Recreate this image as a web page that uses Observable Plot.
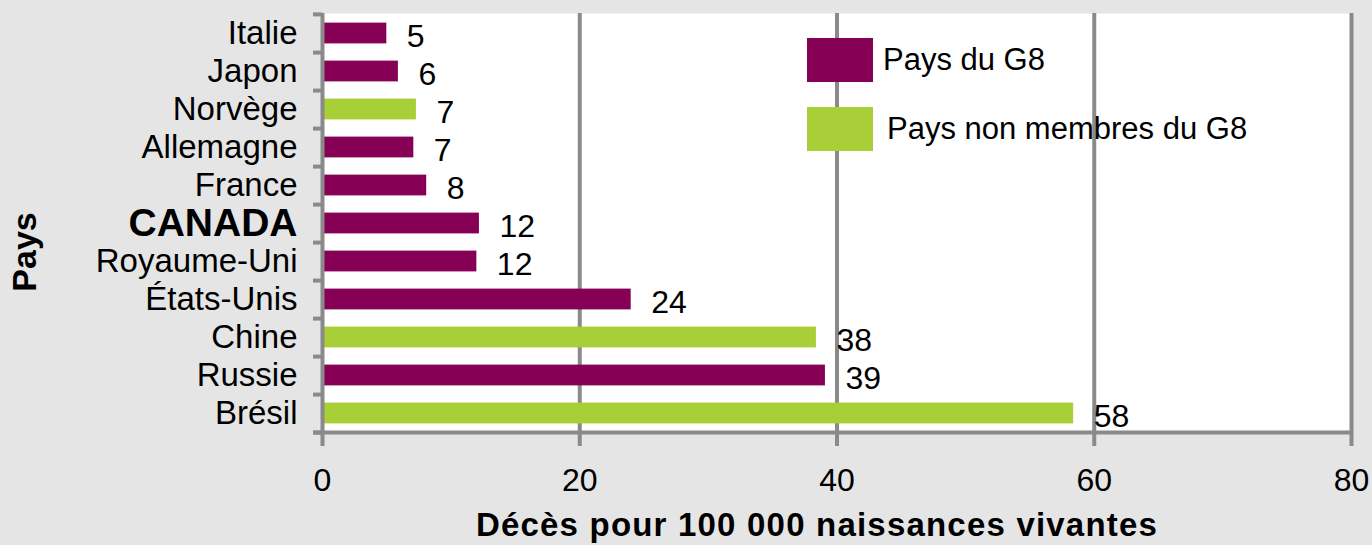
<!DOCTYPE html>
<html>
<head>
<meta charset="utf-8">
<script src="https://cdn.jsdelivr.net/npm/d3@7"></script>
<script src="https://cdn.jsdelivr.net/npm/@observablehq/plot@0.6"></script>
<style>
  html, body { margin: 0; padding: 0; background: #e5e5e5; }
  #wrap { position: relative; width: 1372px; height: 545px; font-family: "Liberation Sans", Arial, Helvetica, sans-serif; }
  .legend { position: absolute; left: 807px; font-size: 31px; color: #000; display: flex; align-items: center; }
  .legend .sw { width: 66px; height: 44px; margin-right: 10px; }
</style>
</head>
<body>
<div id="wrap"></div>
<script>
const countries = ["Italie","Japon","Norvège","Allemagne","France","CANADA","Royaume-Uni","États-Unis","Chine","Russie","Brésil"];
const values = [5.0, 5.9, 7.3, 7.1, 8.1, 12.2, 12.0, 24.0, 38.4, 39.1, 58.4];
const valueLabels = ["5","6","7","7","8","12","12","24","38","39","58"];
const groups = ["Pays du G8","Pays du G8","Pays non membres du G8","Pays du G8","Pays du G8","Pays du G8","Pays du G8","Pays du G8","Pays non membres du G8","Pays du G8","Pays non membres du G8"];
const groupNames = ["Pays du G8","Pays non membres du G8"];
const groupColors = ["#860056","#a9cf38"];
const xTicks = [0, 20, 40, 60, 80];
const xTitle = "Décès pour 100 000 naissances vivantes";
const yTitle = "Pays";
const highlighted = "CANADA";

const rows = countries.map((c, i) => ({country: c, value: values[i], label: valueLabels[i], group: groups[i]}));

const W = 1372, H = 545, mT = 13, mB = 112, mL = 322, mR = 21;
const bw = (H - mT - mB) / countries.length;
const gridColor = "#8a8a8a";
const font = "'Liberation Sans', Arial, Helvetica, sans-serif";

const chart = Plot.plot({
  width: W, height: H,
  marginTop: mT, marginBottom: mB, marginLeft: mL, marginRight: mR,
  style: {background: "#e5e5e5", fontFamily: font, fontSize: "32px", color: "#000"},
  x: {domain: [0, 80], axis: null},
  y: {domain: countries, padding: 0, axis: null},
  color: {domain: groupNames, range: groupColors},
  marks: [
    Plot.frame({fill: "white", stroke: "none"}),
    Plot.ruleX(xTicks.filter(d => d !== 0), {x: d => d, stroke: gridColor, strokeWidth: 4, insetBottom: -13}),
    Plot.barX(rows, {x: "value", y: "country", fill: "group", insetTop: 8.6, insetBottom: 8.6}),
    Plot.ruleX([0], {x: d => d, stroke: gridColor, strokeWidth: 4, insetBottom: -13}),
    // y tick marks at band boundaries
    Plot.ruleY(rows, {y: "country", x1: 0, x2: 0, insetLeft: -9, dy: bw / 2, stroke: gridColor, strokeWidth: 4}),
    Plot.ruleY(rows.slice(0, 1), {y: "country", x1: 0, x2: 0, insetLeft: -9, dy: -bw / 2, stroke: gridColor, strokeWidth: 4}),
    // x axis line
    Plot.ruleY(rows.slice(-1), {y: "country", x1: 0, x2: 80, insetLeft: -9, dy: bw / 2, stroke: gridColor, strokeWidth: 4}),
    // value labels
    Plot.text(rows, {x: "value", y: "country", text: "label", dx: 20, dy: 3, textAnchor: "start", fontSize: 32, fill: "#000"}),
    // y tick labels
    Plot.text(rows.filter(d => d.country !== highlighted), {y: "country", text: "country", frameAnchor: "left", textAnchor: "end", dx: -25, fontSize: 33, fill: "#000"}),
    Plot.text(rows.filter(d => d.country === highlighted), {y: "country", text: "country", frameAnchor: "left", textAnchor: "end", dx: -25, fontSize: 39, fontWeight: "bold", fill: "#000"}),
    // x tick labels
    Plot.text(xTicks, {x: d => d, text: d => String(d), frameAnchor: "bottom", lineAnchor: "top", dy: 35, fontSize: 32, fill: "#000"})
  ]
});

const svg = d3.select(chart);
svg.append("text")
  .attr("x", 817).attr("y", 536)
  .attr("text-anchor", "middle")
  .attr("font-weight", "bold").attr("font-size", 33)
  .attr("letter-spacing", "1.2px")
  .attr("fill", "#000")
  .text(xTitle);
svg.append("text")
  .attr("transform", "translate(36,252) rotate(-90)")
  .attr("text-anchor", "middle")
  .attr("font-weight", "bold").attr("font-size", 34)
  .attr("fill", "#000")
  .text(yTitle);

const wrap = document.getElementById("wrap");
wrap.appendChild(chart);

const legendTops = [38, 107];
groupNames.forEach((g, i) => {
  const item = document.createElement("div");
  item.className = "legend";
  item.style.top = legendTops[i] + "px";
  const sw = document.createElement("div");
  sw.className = "sw";
  sw.style.background = groupColors[i];
  const lab = document.createElement("span");
  lab.textContent = g;
  lab.style.marginLeft = i === 0 ? "0px" : "4px";
  item.appendChild(sw);
  item.appendChild(lab);
  wrap.appendChild(item);
});
</script>
</body>
</html>
